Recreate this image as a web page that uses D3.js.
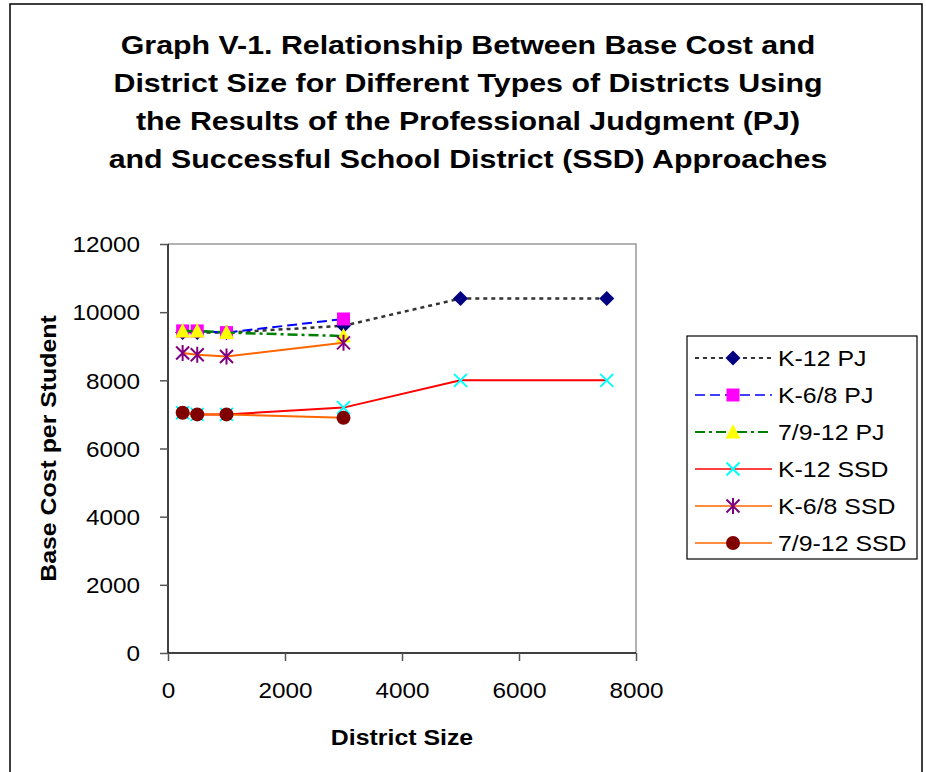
<!DOCTYPE html>
<html>
<head>
<meta charset="utf-8">
<script src="https://cdn.jsdelivr.net/npm/d3@7"></script>
<style>
  body { margin: 0; background: #fff; }
  svg { display: block; font-family: "Liberation Sans", Arial, sans-serif; }
</style>
</head>
<body>
<div id="chart"></div>
<script>
// Data
const titleLines = [
    'Graph V-1. Relationship Between Base Cost and',
    'District Size for Different Types of Districts Using',
    'the Results of the Professional Judgment (PJ)',
    'and Successful School District (SSD) Approaches'
];
const sizesLong = [250, 500, 1000, 3000, 5000, 7500];
const sizesShort = [250, 500, 1000, 3000];
const k12PJ = [9400, 9400, 9400, 9600, 10400, 10400];
const k68PJ = [9450, 9450, 9400, 9800];
const g912PJ = [9450, 9450, 9400, 9300];
const k12SSD = [7050, 7000, 7000, 7200, 8000, 8000];
const k68SSD = [8800, 8750, 8700, 9100];
const g912SSD = [7050, 7000, 7000, 6900];
const xTicks = [0, 2000, 4000, 6000, 8000];
const yTicks = [0, 2000, 4000, 6000, 8000, 10000, 12000];

const series = [
    { name: 'K-12 PJ', x: sizesLong, y: k12PJ, stroke: '#333333', dash: '4,4', width: 2.5, marker: 'diamond', fill: '#000080' },
    { name: 'K-6/8 PJ', x: sizesShort, y: k68PJ, stroke: '#0000ff', dash: '10,5', width: 2, marker: 'square', fill: '#ff00ff' },
    { name: '7/9-12 PJ', x: sizesShort, y: g912PJ, stroke: '#008000', dash: '10,4,3,4', width: 2.5, marker: 'triangle', fill: '#ffff00' },
    { name: 'K-12 SSD', x: sizesLong, y: k12SSD, stroke: '#ff0000', dash: null, width: 2, marker: 'x', fill: '#00ffff' },
    { name: 'K-6/8 SSD', x: sizesShort, y: k68SSD, stroke: '#ff6600', dash: null, width: 2, marker: 'star', fill: '#800080' },
    { name: '7/9-12 SSD', x: sizesShort, y: g912SSD, stroke: '#ff6600', dash: null, width: 2, marker: 'circle', fill: '#800000' }
];

const width = 926, height = 772;
const plot = { left: 168, top: 244, right: 636, bottom: 653 };
const stretch = 1.13; // the original's lettering is wider than Arial

const svg = d3.select('#chart').append('svg')
    .attr('width', width)
    .attr('height', height);

// outer frame
svg.append('rect')
    .attr('x', 10).attr('y', 4)
    .attr('width', 912).attr('height', 820)
    .attr('fill', 'none')
    .attr('stroke', '#000')
    .attr('stroke-width', 1.5);

// title
svg.selectAll('text.title')
    .data(titleLines)
    .join('text')
    .classed('title', true)
    .attr('transform', (d, i) => `translate(468, ${54 + i * 38}) scale(1.19, 1)`)
    .attr('font-size', 25.5)
    .attr('font-weight', 'bold')
    .attr('text-anchor', 'middle')
    .text(d => d);

const scaleX = d3.scaleLinear().domain([0, 8000]).range([plot.left, plot.right]);
const scaleY = d3.scaleLinear().domain([0, 12000]).range([plot.bottom, plot.top]);

// plot frame (top and right in gray)
svg.append('path')
    .attr('d', `M${plot.left},${plot.top}H${plot.right}V${plot.bottom}`)
    .attr('fill', 'none')
    .attr('stroke', '#999')
    .attr('stroke-width', 1.5);

// axes
const axisX = svg.append('g')
    .attr('transform', `translate(0, ${plot.bottom})`)
    .call(d3.axisBottom(scaleX).tickValues(xTicks).tickFormat(d3.format('d')).tickSize(8).tickPadding(22));
const axisY = svg.append('g')
    .attr('transform', `translate(${plot.left}, 0)`)
    .call(d3.axisLeft(scaleY).tickValues(yTicks).tickFormat(d3.format('d')).tickSize(8).tickPadding(20));

[axisX, axisY].forEach(ax => {
    ax.select('.domain').attr('stroke', '#000').attr('stroke-width', 1.5);
    ax.selectAll('.tick line').attr('stroke', '#555').attr('stroke-width', 1.5);
    ax.selectAll('.tick text')
        .attr('font-size', 21.5)
        .attr('font-family', '"Liberation Sans", Arial, sans-serif')
        .attr('fill', '#000')
        .each(function () {
            const t = d3.select(this);
            const x = +t.attr('x') || 0;
            t.attr('x', 0).attr('transform', `translate(${x}, 0) scale(${stretch}, 1)`);
        });
});
axisY.selectAll('.tick text').attr('dy', '0.36em');
axisX.select('.domain').attr('d', `M${plot.left},0H${plot.right}`);
axisY.select('.domain').attr('d', `M0,${plot.bottom}V${plot.top}`);

// axis titles
svg.append('text')
    .attr('transform', `translate(${(plot.left + plot.right) / 2}, 745) scale(${stretch}, 1)`)
    .attr('text-anchor', 'middle')
    .attr('font-size', 22)
    .attr('font-weight', 'bold')
    .text('District Size');

svg.append('text')
    .attr('transform', `translate(56, ${(plot.top + plot.bottom) / 2}) rotate(-90) scale(${stretch}, 1)`)
    .attr('text-anchor', 'middle')
    .attr('font-size', 22)
    .attr('font-weight', 'bold')
    .text('Base Cost per Student');

// marker drawing
function drawMarker(g, type, fill) {
    switch (type) {
        case 'diamond':
            g.append('path').attr('d', 'M0,-7.5L7.5,0L0,7.5L-7.5,0Z').attr('fill', fill);
            break;
        case 'square':
            g.append('rect').attr('x', -6.5).attr('y', -6.5).attr('width', 13).attr('height', 13).attr('fill', fill);
            break;
        case 'triangle':
            g.append('path').attr('d', 'M0,-8L7.5,6.5L-7.5,6.5Z').attr('fill', fill);
            break;
        case 'x':
            g.append('path').attr('d', 'M-6.5,-6.5L6.5,6.5M-6.5,6.5L6.5,-6.5').attr('stroke', fill).attr('stroke-width', 2);
            break;
        case 'star':
            g.append('path').attr('d', 'M-6.5,-6.5L6.5,6.5M-6.5,6.5L6.5,-6.5M0,-8V8').attr('stroke', fill).attr('stroke-width', 2);
            break;
        case 'circle':
            g.append('circle').attr('r', 7).attr('fill', fill);
            break;
    }
}

const lineGen = d3.line()
    .x(d => scaleX(d[0]))
    .y(d => scaleY(d[1]));

series.forEach(s => {
    const pts = s.x.map((x, i) => [x, s.y[i]]);
    const g = svg.append('g');
    g.append('path')
        .datum(pts)
        .attr('d', lineGen)
        .attr('fill', 'none')
        .attr('stroke', s.stroke)
        .attr('stroke-width', s.width)
        .attr('stroke-dasharray', s.dash);
    pts.forEach(p => {
        const m = g.append('g').attr('transform', `translate(${scaleX(p[0])}, ${scaleY(p[1])})`);
        drawMarker(m, s.marker, s.fill);
    });
});

// legend
const legend = svg.append('g').attr('transform', 'translate(687, 336)');
legend.append('rect')
    .attr('width', 230).attr('height', 223)
    .attr('fill', '#fff')
    .attr('stroke', '#000')
    .attr('stroke-width', 1.2);

series.forEach((s, i) => {
    const y = 22 + i * 37;
    const row = legend.append('g').attr('transform', `translate(0, ${y})`);
    row.append('line')
        .attr('x1', 8).attr('x2', 85)
        .attr('stroke', s.stroke)
        .attr('stroke-width', s.width - 0.5)
        .attr('stroke-dasharray', s.dash);
    drawMarker(row.append('g').attr('transform', 'translate(46, 0)'), s.marker, s.fill);
    row.append('text')
        .attr('transform', `translate(91, 0) scale(${stretch}, 1)`)
        .attr('dy', '0.36em')
        .attr('font-size', 22)
        .text(s.name);
});
</script>
</body>
</html>
